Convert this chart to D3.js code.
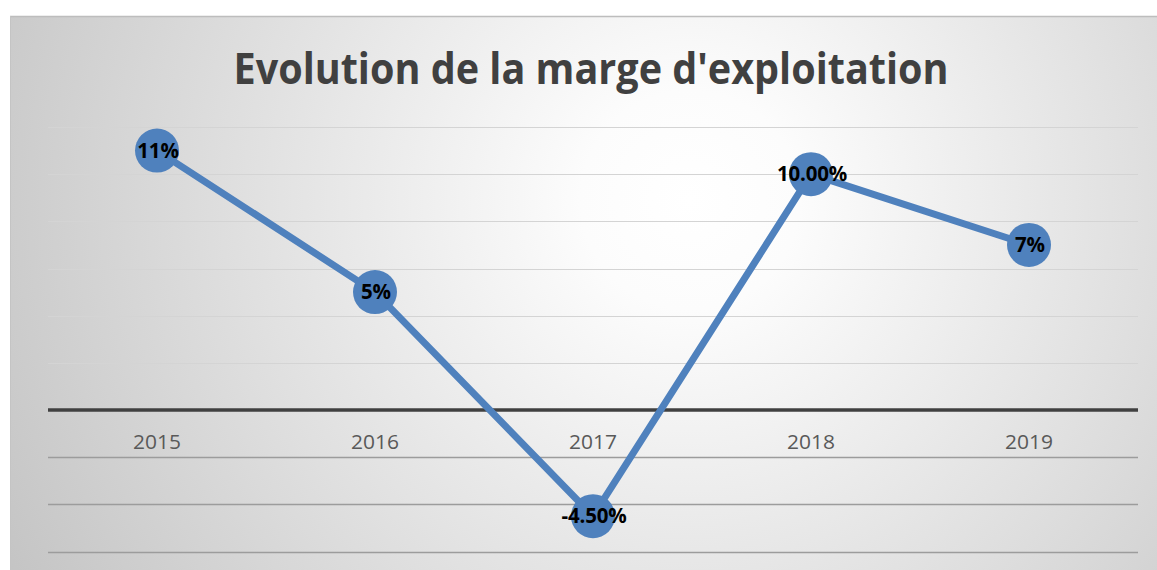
<!DOCTYPE html>
<html>
<head>
<meta charset="utf-8">
<script src="https://cdn.jsdelivr.net/npm/d3@7"></script>
<style>
  body { margin: 0; background: #fff; }
  svg { display: block; }
</style>
</head>
<body>
<div id="chart"></div>
<script>
var years = ['2015', '2016', '2017', '2018', '2019'];
var margins = [11, 5, -4.5, 10, 7];
var labels = ['11%', '5%', '-4.50%', '10.00%', '7%'];
var gridValues = [-6, -4, -2, 2, 4, 6, 8, 10, 12];
var title = "Evolution de la marge d'exploitation";

var width = 1157, height = 570;

var svg = d3.select('#chart').append('svg')
    .attr('width', width)
    .attr('height', height);

// background gradient
var defs = svg.append('defs');
var grad = defs.append('radialGradient')
    .attr('id', 'bg')
    .attr('gradientUnits', 'userSpaceOnUse')
    .attr('cx', 690).attr('cy', 200).attr('r', 780);
grad.append('stop').attr('offset', '0%').attr('stop-color', '#ffffff');
grad.append('stop').attr('offset', '14%').attr('stop-color', '#fcfcfc');
grad.append('stop').attr('offset', '100%').attr('stop-color', '#c4c4c4');

svg.append('rect')
    .attr('x', 10).attr('y', 16)
    .attr('width', width - 10).attr('height', height - 16)
    .attr('fill', 'url(#bg)');
svg.append('line')
    .attr('x1', 10).attr('x2', width).attr('y1', 16.5).attr('y2', 16.5)
    .attr('stroke', '#bdbdbd').attr('stroke-width', 1.5);
svg.append('line')
    .attr('x1', 10.5).attr('x2', 10.5).attr('y1', 16).attr('y2', height)
    .attr('stroke', '#c4c4c4').attr('stroke-width', 1);

var x = d3.scaleBand().domain(years).range([48, 1138]);
var y = d3.scaleLinear().domain([-6, 12]).range([551.5, 127]);

// gridlines
svg.append('g').selectAll('line')
    .data(gridValues)
    .enter().append('line')
    .attr('x1', 48).attr('x2', 1138)
    .attr('y1', function(d){ return Math.round(y(d)) + 0.5; })
    .attr('y2', function(d){ return Math.round(y(d)) + 0.5; })
    .attr('stroke', function(d){ return d < 0 ? '#9c9c9c' : '#d4d4d4'; })
    .attr('stroke-width', function(d){ return d < 0 ? 1.5 : 1.2; });

// zero axis
svg.append('line')
    .attr('x1', 48).attr('x2', 1138)
    .attr('y1', y(0)).attr('y2', y(0))
    .attr('stroke', '#404040').attr('stroke-width', 3.5);

// category labels
svg.append('g').selectAll('text')
    .data(years)
    .enter().append('text')
    .attr('x', function(d){ return x(d) + x.bandwidth() / 2; })
    .attr('y', y(0) + 39)
    .attr('text-anchor', 'middle')
    .attr('font-family', 'Open Sans, sans-serif')
    .attr('font-size', 20)
    .attr('textLength', 48)
    .attr('lengthAdjust', 'spacingAndGlyphs')
    .attr('fill', '#595959')
    .text(function(d){ return d; });

// title
svg.append('text')
    .attr('x', 591).attr('y', 84)
    .attr('text-anchor', 'middle')
    .attr('font-family', 'Open Sans, sans-serif')
    .attr('font-weight', 'bold')
    .attr('font-size', 43)
    .attr('fill', '#404040')
    .attr('textLength', 715)
    .attr('lengthAdjust', 'spacingAndGlyphs')
    .text(title);

// line
var line = d3.line()
    .x(function(d, i){ return x(years[i]) + x.bandwidth() / 2; })
    .y(function(d){ return y(d); });

svg.append('path')
    .datum(margins)
    .attr('d', line)
    .attr('fill', 'none')
    .attr('stroke', '#4f81bd')
    .attr('stroke-width', 7)
    .attr('stroke-linejoin', 'round');

svg.append('g').selectAll('circle')
    .data(margins)
    .enter().append('circle')
    .attr('cx', function(d, i){ return x(years[i]) + x.bandwidth() / 2; })
    .attr('cy', function(d){ return y(d); })
    .attr('r', 22)
    .attr('fill', '#4f81bd');

// data labels
svg.append('g').selectAll('text')
    .data(margins)
    .enter().append('text')
    .attr('x', function(d, i){ return x(years[i]) + x.bandwidth() / 2 + 1; })
    .attr('y', function(d){ return y(d) + 7; })
    .attr('text-anchor', 'middle')
    .attr('font-family', 'Open Sans, sans-serif')
    .attr('font-weight', 'bold')
    .attr('font-size', 20.5)
    .attr('letter-spacing', -0.2)
    .attr('fill', '#000')
    .text(function(d, i){ return labels[i]; });
</script>
</body>
</html>
